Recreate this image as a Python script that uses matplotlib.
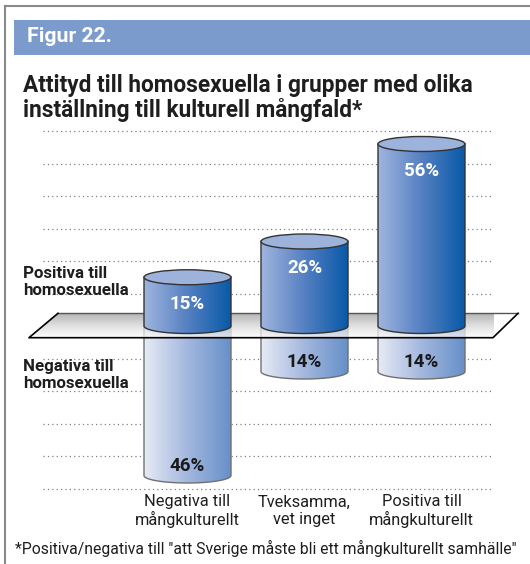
import numpy as np
import matplotlib
matplotlib.use("Agg")
from matplotlib import pyplot as plt
from matplotlib.colors import LinearSegmentedColormap
from matplotlib.patches import Polygon, Ellipse, Rectangle
from matplotlib.lines import Line2D
from matplotlib.transforms import blended_transform_factory

plt.rcParams['font.family'] = ['Roboto', 'DejaVu Sans']

# data
categories = ["Negativa till\nmångkulturellt", "Tveksamma,\nvet inget", "Positiva till\nmångkulturellt"]
positive = [15, 26, 56]   # positiva till homosexuella, %
negative = [46, 14, 14]   # negativa till homosexuella, %
row_labels = ["Positiva till\nhomosexuella", "Negativa till\nhomosexuella"]
grid_values = [-50, -40, -30, -20, -10, 10, 20, 30, 40, 50, 60]

figure_label = "Figur 22."
title_lines = ["Attityd till homosexuella i grupper med olika",
               "inställning till kulturell mångfald*"]
footnote = '*Positiva/negativa till "att Sverige måste bli ett mångkulturellt samhälle"'

W, H = 530, 564


def fx(px):
    return px / W


def fy(py):
    return 1 - py / H


fig = plt.figure(figsize=(W / 100, H / 100), dpi=100)

# frame + header bar
fig.add_artist(Line2D([fx(5), fx(5)], [fy(6), fy(564)], color='#8a8a8a', lw=1.5))
fig.add_artist(Line2D([fx(5), fx(530)], [fy(6), fy(6)], color='#8a8a8a', lw=1.5))
fig.add_artist(Rectangle((fx(14), fy(55)), fx(530) - fx(14), fy(20) - fy(55),
                         transform=fig.transFigure, color='#7a9bcb', lw=0))
fig.text(fx(27), fy(37), figure_label, color='white', fontsize=15.3, fontweight='bold', va='center')
fig.text(fx(23), fy(92), title_lines[0], fontsize=16.3, fontweight='bold', color='#1e1e1e', va='baseline')
fig.text(fx(23), fy(117), title_lines[1], fontsize=16.3, fontweight='bold', color='#1e1e1e', va='baseline')

# chart axes: category 0 at 187.5px, 117px per category, 0% at 326px, 3.25px per %
step_x, step_y = 117, 3.25
x_lo, x_hi = -1.4, 2.9
y_lo, y_hi = -52, 63.4
ax = fig.add_axes([fx(187.5 + x_lo * step_x), fy(326 - y_lo * step_y),
                   (x_hi - x_lo) * step_x / W, (y_hi - y_lo) * step_y / H])
ax.set_xlim(x_lo, x_hi)
ax.set_ylim(y_lo, y_hi)
ax.axis('off')

ax.hlines(grid_values, -1.235, 2.611, colors='#808080', linestyles=(0, (1, 2.5)), lw=0.9, zorder=0)

w = 87 / step_x
eh = 7.5 / step_y
grad = np.linspace(0, 1, 256).reshape(1, -1)
top_cmap = LinearSegmentedColormap.from_list('top', ['#a0b5de', '#5580c2', '#085aa8'])
bot_cmap = LinearSegmentedColormap.from_list('bot', ['#e6ebf5', '#a3b7de', '#6690c9'])


def body_points(xc, y0, y1):
    t = np.linspace(np.pi, 2 * np.pi, 80)
    arc = np.column_stack([xc + w / 2 * np.cos(t), y0 + eh * np.sin(t)])
    return np.vstack([[xc - w / 2, y1], arc, [xc + w / 2, y1]])


def cylinder(xc, y0, y1, cmap, edge, z, top_face=None):
    pts = body_points(xc, y0, y1)
    clip = Polygon(pts, closed=True, facecolor='none', edgecolor='none', zorder=z)
    ax.add_patch(clip)
    im = ax.imshow(grad, cmap=cmap, extent=[xc - w / 2, xc + w / 2, y0 - eh, y1 + eh],
                   aspect='auto', origin='lower', zorder=z, interpolation='bilinear')
    im.set_clip_path(clip)
    ax.plot(pts[:, 0], pts[:, 1], color=edge, lw=1, zorder=z + 0.1)
    if top_face is not None:
        ax.add_patch(Ellipse((xc, y1), w, 2 * eh, facecolor=top_face, edgecolor=edge, lw=1, zorder=z + 0.2))


for i, v in enumerate(negative):
    cylinder(i, -v, 0, bot_cmap, '#707070', 2)
    ax.text(i, -v + 3, f"{v}%", ha='center', va='center', fontsize=13.5, fontweight='bold', color='#1a1a1a', zorder=6)

# the zero plane
plane = [(-1.107, 3.9), (2.825, 3.9), (2.611, -3.6), (-1.355, -3.6)]
pclip = Polygon(plane, closed=True, facecolor='none', edgecolor='none', zorder=3)
ax.add_patch(pclip)
pcmap = LinearSegmentedColormap.from_list('plane', ['#ffffff', '#d5d5d5', '#9c9c9c'])
pim = ax.imshow(np.linspace(0, 1, 128).reshape(-1, 1), cmap=pcmap, extent=[-1.355, 2.611, -3.6, 3.9],
                aspect='auto', origin='lower', alpha=0.75, zorder=3, interpolation='bilinear')
pim.set_clip_path(pclip)
px, py = zip(*(plane + [plane[0]]))
ax.plot(px[:2], py[:2], color='#555555', lw=1, zorder=3.5)
ax.plot(px[1:], py[1:], color='black', lw=1.2, zorder=3.5)

for i, v in enumerate(positive):
    cylinder(i, 0, v, top_cmap, '#333333', 4, top_face='#9db3db')
    ax.text(i, v - 8.3, f"{v}%", ha='center', va='center', fontsize=13.5, fontweight='bold', color='white', zorder=6)

# labels
fig.text(fx(23), fy(282), row_labels[0], fontsize=12.2, fontweight='bold', color='#1e1e1e', va='center', linespacing=1.1)
fig.text(fx(23), fy(375), row_labels[1], fontsize=12.2, fontweight='bold', color='#1e1e1e', va='center', linespacing=1.1)

tr = blended_transform_factory(ax.transData, fig.transFigure)
for i, c in enumerate(categories):
    ax.text(i, fy(511), c, transform=tr, ha='center', va='center', fontsize=11.8, color='#1e1e1e', linespacing=1.2)

fig.text(fx(15), fy(548), footnote, fontsize=11.3, color='#1e1e1e', va='center')

fig.savefig("out.png", dpi=100)
